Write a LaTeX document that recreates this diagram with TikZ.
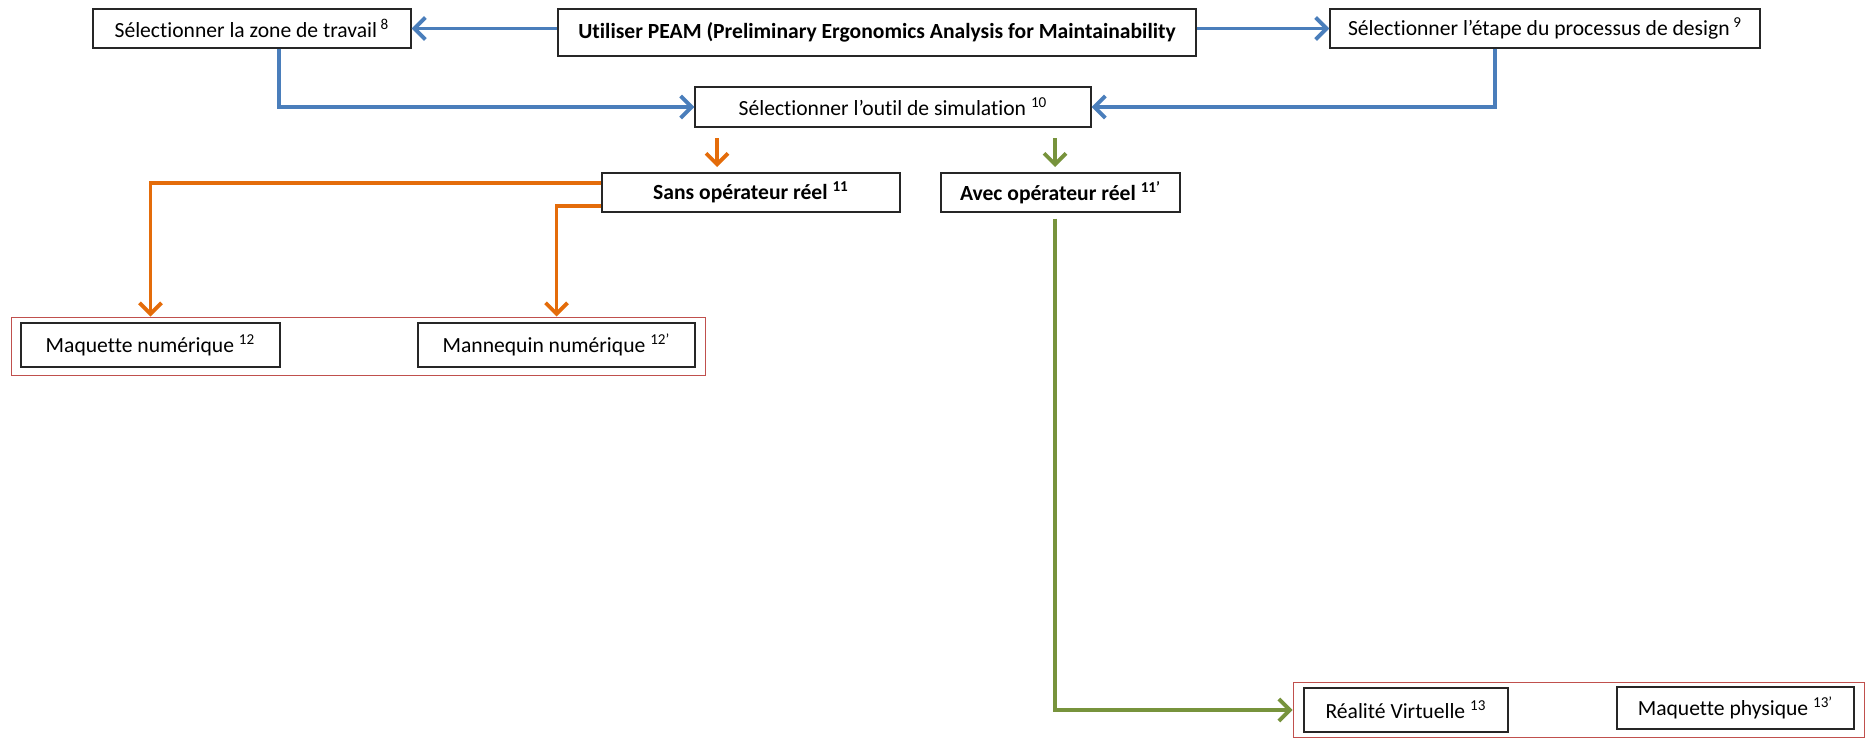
\documentclass[tikz,border=0pt]{standalone}
\usepackage{fontspec}
\setmainfont{Carlito}[Ligatures={NoCommon}]
\usetikzlibrary{arrows.meta}
\definecolor{cblue}{HTML}{4A7EBB}
\definecolor{corange}{HTML}{E46C0A}
\definecolor{cgreen}{HTML}{77933C}
\definecolor{cred}{HTML}{C0504D}
\tikzset{
  box/.style={draw=black!85, line width=0.7pt, fill=white, inner sep=0pt, align=center,
              font=\fontsize{10.8}{13}\selectfont},
  group/.style={draw=cred, line width=0.5pt, inner sep=0pt},
  conn/.style={line width=1.9pt, -{Straight Barb[length=5.5pt,width=11pt,line width=1.9pt]}},
  bl/.style={conn, draw=cblue},
  og/.style={conn, draw=corange},
  gr/.style={conn, draw=cgreen},
}
\begin{document}
\begin{tikzpicture}[x=0.5pt,y=-0.5pt]
\useasboundingbox (0,0) rectangle (1866,738);
% group frames
\node[group, minimum width=347pt, minimum height=29pt] (g1) at (358,346) {};
\node[group, minimum width=285.5pt, minimum height=27.5pt] (g2) at (1578.5,710) {};
% boxes
\node[box, minimum width=159pt, minimum height=19.5pt] (zone) at (252,28.5) {Sélectionner la zone de travail\,\textsuperscript{8}};
\node[box, minimum width=319pt, minimum height=23.5pt, font=\fontsize{10.8}{13}\selectfont\bfseries] (peam) at (877,32.5) {Utiliser PEAM (Preliminary Ergonomics Analysis for Maintainability};
\node[box, minimum width=215pt, minimum height=19.5pt] (etape) at (1545,28.5) {Sélectionner l’étape du processus de design\,\textsuperscript{9}};
\node[box, minimum width=198pt, minimum height=20pt] (outil) at (893,107) {Sélectionner l’outil de simulation \textsuperscript{10}};
\node[box, minimum width=149pt, minimum height=19.5pt, font=\fontsize{10.8}{13}\selectfont\bfseries] (sans) at (751,192.5) {Sans opérateur réel \textsuperscript{11}};
\node[box, minimum width=119.5pt, minimum height=19.5pt, font=\fontsize{10.8}{13}\selectfont\bfseries] (avec) at (1060.5,192.5) {Avec opérateur réel \textsuperscript{11’}};
\node[box, minimum width=129.5pt, minimum height=22pt] (maqnum) at (150.5,345) {Maquette numérique \textsuperscript{12}};
\node[box, minimum width=138.5pt, minimum height=22pt] (mannequin) at (556.5,345) {Mannequin numérique \textsuperscript{12’}};
\node[box, minimum width=102pt, minimum height=22pt] (realite) at (1406,710) {Réalité Virtuelle \textsuperscript{13}};
\node[box, minimum width=118.5pt, minimum height=21pt] (maqphys) at (1735.5,708) {Maquette physique \textsuperscript{13’}};
% free arrow ends
\coordinate (oa) at (717,138);
\coordinate (ob) at (717,167);
\coordinate (ga) at (1055,138);
\coordinate (gb) at (1055,167);
% blue connectors
\draw[bl] (peam.west |- zone.east) -- (zone.east);
\draw[bl] (peam.east |- etape.west) -- (etape.west);
\draw[bl] ([xshift=13.5pt]zone.south) |- (outil.west);
\draw[bl] ([xshift=-25pt]etape.south) |- (outil.east);
% orange
\draw[og] (oa) -- (ob);
\draw[og] ([yshift=4.75pt]sans.west) -| (maqnum.north |- g1.north);
\draw[og] ([yshift=-6.75pt]sans.west) -| (mannequin.north |- g1.north);
% green
\draw[gr] (ga) -- (gb);
\draw[gr] ([xshift=-2.75pt,yshift=-3pt]avec.south) |- (g2.west);
\end{tikzpicture}
\end{document}
